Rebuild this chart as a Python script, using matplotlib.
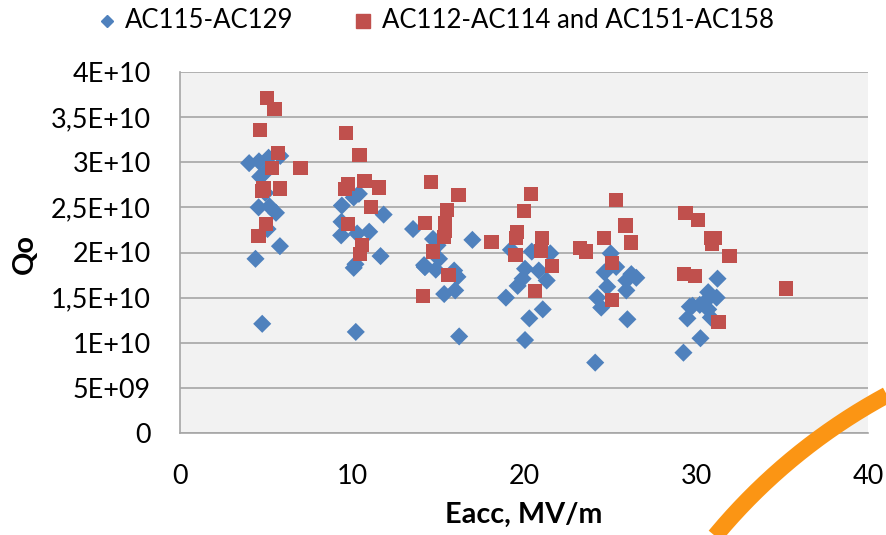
import numpy as np
import matplotlib
matplotlib.use("Agg")
import matplotlib.pyplot as plt
from matplotlib.lines import Line2D

# AC115-AC129 (Eacc MV/m, Qo in units of 1E10)
blue_x = [4.02, 4.59, 5.15, 5.83, 4.66, 4.96, 4.96, 4.57, 5.21, 5.58, 5.09, 5.81, 4.39, 4.78,
          9.41, 9.39, 9.37, 10.4, 10.1, 10.3, 11.0, 11.84, 11.66, 10.2, 10.1, 10.22,
          13.55, 14.19, 14.25, 14.71, 14.97, 17.0, 15.06, 14.23, 14.87, 15.94, 16.13, 15.36, 16.0, 16.23,
          19.24, 20.45, 21.53, 20.06, 20.86, 19.92, 19.63, 21.32, 18.95, 21.09, 20.31, 20.06,
          25.04, 25.36, 24.68, 24.84, 24.26, 24.49, 26.24, 26.53, 25.95, 25.95, 26.01, 24.14,
          31.25, 30.71, 31.2, 30.51, 30.22, 29.64, 29.8, 30.71, 29.5, 30.86, 30.26, 29.27]
blue_y = [2.99, 3.01, 3.05, 3.07, 2.84, 2.89, 2.66, 2.50, 2.51, 2.44, 2.26, 2.07, 1.93, 1.21,
          2.52, 2.34, 2.19, 2.65, 2.61, 2.21, 2.23, 2.42, 1.96, 1.87, 1.83, 1.12,
          2.26, 1.86, 1.84, 2.15, 2.08, 2.14, 1.93, 1.84, 1.81, 1.80, 1.73, 1.54, 1.58, 1.07,
          2.03, 2.01, 1.99, 1.82, 1.80, 1.71, 1.63, 1.69, 1.50, 1.37, 1.27, 1.03,
          1.99, 1.84, 1.78, 1.62, 1.50, 1.39, 1.76, 1.72, 1.69, 1.58, 1.26, 0.78,
          1.71, 1.56, 1.50, 1.45, 1.42, 1.40, 1.41, 1.37, 1.27, 1.28, 1.05, 0.89]

# AC112-AC114 and AC151-AC158
red_x = [5.05, 5.5, 4.65, 5.7, 5.35, 7.0, 4.86, 4.76, 5.8, 5.0, 4.57,
         9.64, 10.44, 9.78, 9.58, 10.73, 11.56, 11.12, 9.78, 10.57, 10.48,
         14.58, 16.19, 15.51, 14.23, 15.41, 15.41, 15.36, 14.71, 15.61, 14.13, 18.11,
         20.41, 20.02, 19.59, 19.53, 21.03, 20.99, 19.51, 21.63, 20.64, 23.27, 23.62,
         25.33, 25.9, 26.24, 24.65, 25.11, 25.11,
         29.39, 30.13, 30.85, 31.1, 30.95, 31.95, 29.29, 29.93, 31.31, 35.22]
red_y = [3.71, 3.59, 3.36, 3.10, 2.94, 2.94, 2.71, 2.68, 2.71, 2.32, 2.18,
         3.32, 3.08, 2.76, 2.70, 2.79, 2.72, 2.50, 2.32, 2.08, 1.98,
         2.78, 2.64, 2.47, 2.33, 2.33, 2.24, 2.17, 2.01, 1.75, 1.52, 2.12,
         2.65, 2.46, 2.23, 2.16, 2.16, 2.02, 1.97, 1.85, 1.57, 2.05, 2.01,
         2.58, 2.30, 2.11, 2.16, 1.88, 1.47,
         2.44, 2.36, 2.16, 2.16, 2.09, 1.96, 1.76, 1.74, 1.23, 1.60]

y_ticks = [0, 0.5, 1.0, 1.5, 2.0, 2.5, 3.0, 3.5, 4.0]
y_labels = ["0", "5E+09", "1E+10", "1,5E+10", "2E+10", "2,5E+10", "3E+10", "3,5E+10", "4E+10"]
x_ticks = [0, 10, 20, 30, 40]
series_names = ["AC115-AC129", "AC112-AC114 and AC151-AC158"]

BLUE = "#4F81BD"
RED = "#C0504D"
W, H = 887, 535

plt.rcParams["font.family"] = ["Lato", "DejaVu Sans"]

fig = plt.figure(figsize=(W / 100, H / 100), dpi=100)
renderer = fig.canvas.get_renderer()


def fit_size(text, width_px, weight="normal"):
    # font size that makes `text` about width_px wide
    t = fig.text(0, 0, text, fontsize=20, fontweight=weight)
    w = t.get_window_extent(renderer).width
    t.remove()
    return 20 * width_px / w


tick_fs = fit_size("3,5E+10", 100)
leg_fs = fit_size(series_names[1], 393)
lab_fs = fit_size("Eacc, MV/m", 157, "bold")

ax = fig.add_axes([180 / W, 1 - 433 / H, 688 / W, 361 / H])
ax.set_facecolor("#F2F2F2")

ax.scatter(blue_x, blue_y, marker="D", s=85, color=BLUE, edgecolors="none", zorder=3)
ax.scatter(red_x, red_y, marker="s", s=105, color=RED, edgecolors="none", zorder=4)

ax.set_xlim(0, 40)
ax.set_ylim(0, 4.0)
ax.set_yticks(y_ticks)
ax.set_yticklabels(y_labels)
ax.set_xticks(x_ticks)
ax.tick_params(length=0, labelsize=tick_fs)
ax.tick_params(axis="y", pad=21)
ax.tick_params(axis="x", pad=22)
ax.yaxis.grid(True, color="#A6A6A6", linewidth=1.2)
ax.set_axisbelow(True)
for side in ["top", "right"]:
    ax.spines[side].set_visible(False)
for side in ["left", "bottom"]:
    ax.spines[side].set_color("#A6A6A6")
    ax.spines[side].set_linewidth(1.2)

# axis titles placed in figure coordinates
ax.set_xlabel("Eacc, MV/m", fontsize=lab_fs, fontweight="bold")
ax.xaxis.set_label_coords(524 / W, 1 - 515 / H, transform=fig.transFigure)
ax.xaxis.label.set_va("center")
ax.set_ylabel("Qo", fontsize=lab_fs, fontweight="bold")
ax.yaxis.set_label_coords(25 / W, 1 - 254 / H, transform=fig.transFigure)
ax.yaxis.label.set_va("center")

# legend drawn at the top of the slide
ly = 1 - 21 / H
fig.add_artist(Line2D([107 / W], [ly], marker="D", markersize=6.5, color=BLUE,
                      transform=fig.transFigure))
fig.add_artist(Line2D([363 / W], [ly], marker="s", markersize=9.5, color=RED,
                      transform=fig.transFigure))
fig.text(125 / W, ly, series_names[0], fontsize=leg_fs, va="center")
fig.text(382 / W, ly, series_names[1], fontsize=leg_fs, va="center")

# decorative orange swoosh from the slide
t = np.linspace(np.radians(108), np.radians(146), 200)
cx, cy, r = 1164, 908, 583
px = cx + r * np.cos(t)
py = cy - r * np.sin(t)
fig.add_artist(Line2D(px / W, 1 - py / H, transform=fig.transFigure,
                      color="#FB9514", linewidth=12, solid_capstyle="butt", zorder=10))

fig.savefig("out.png", dpi=100)
